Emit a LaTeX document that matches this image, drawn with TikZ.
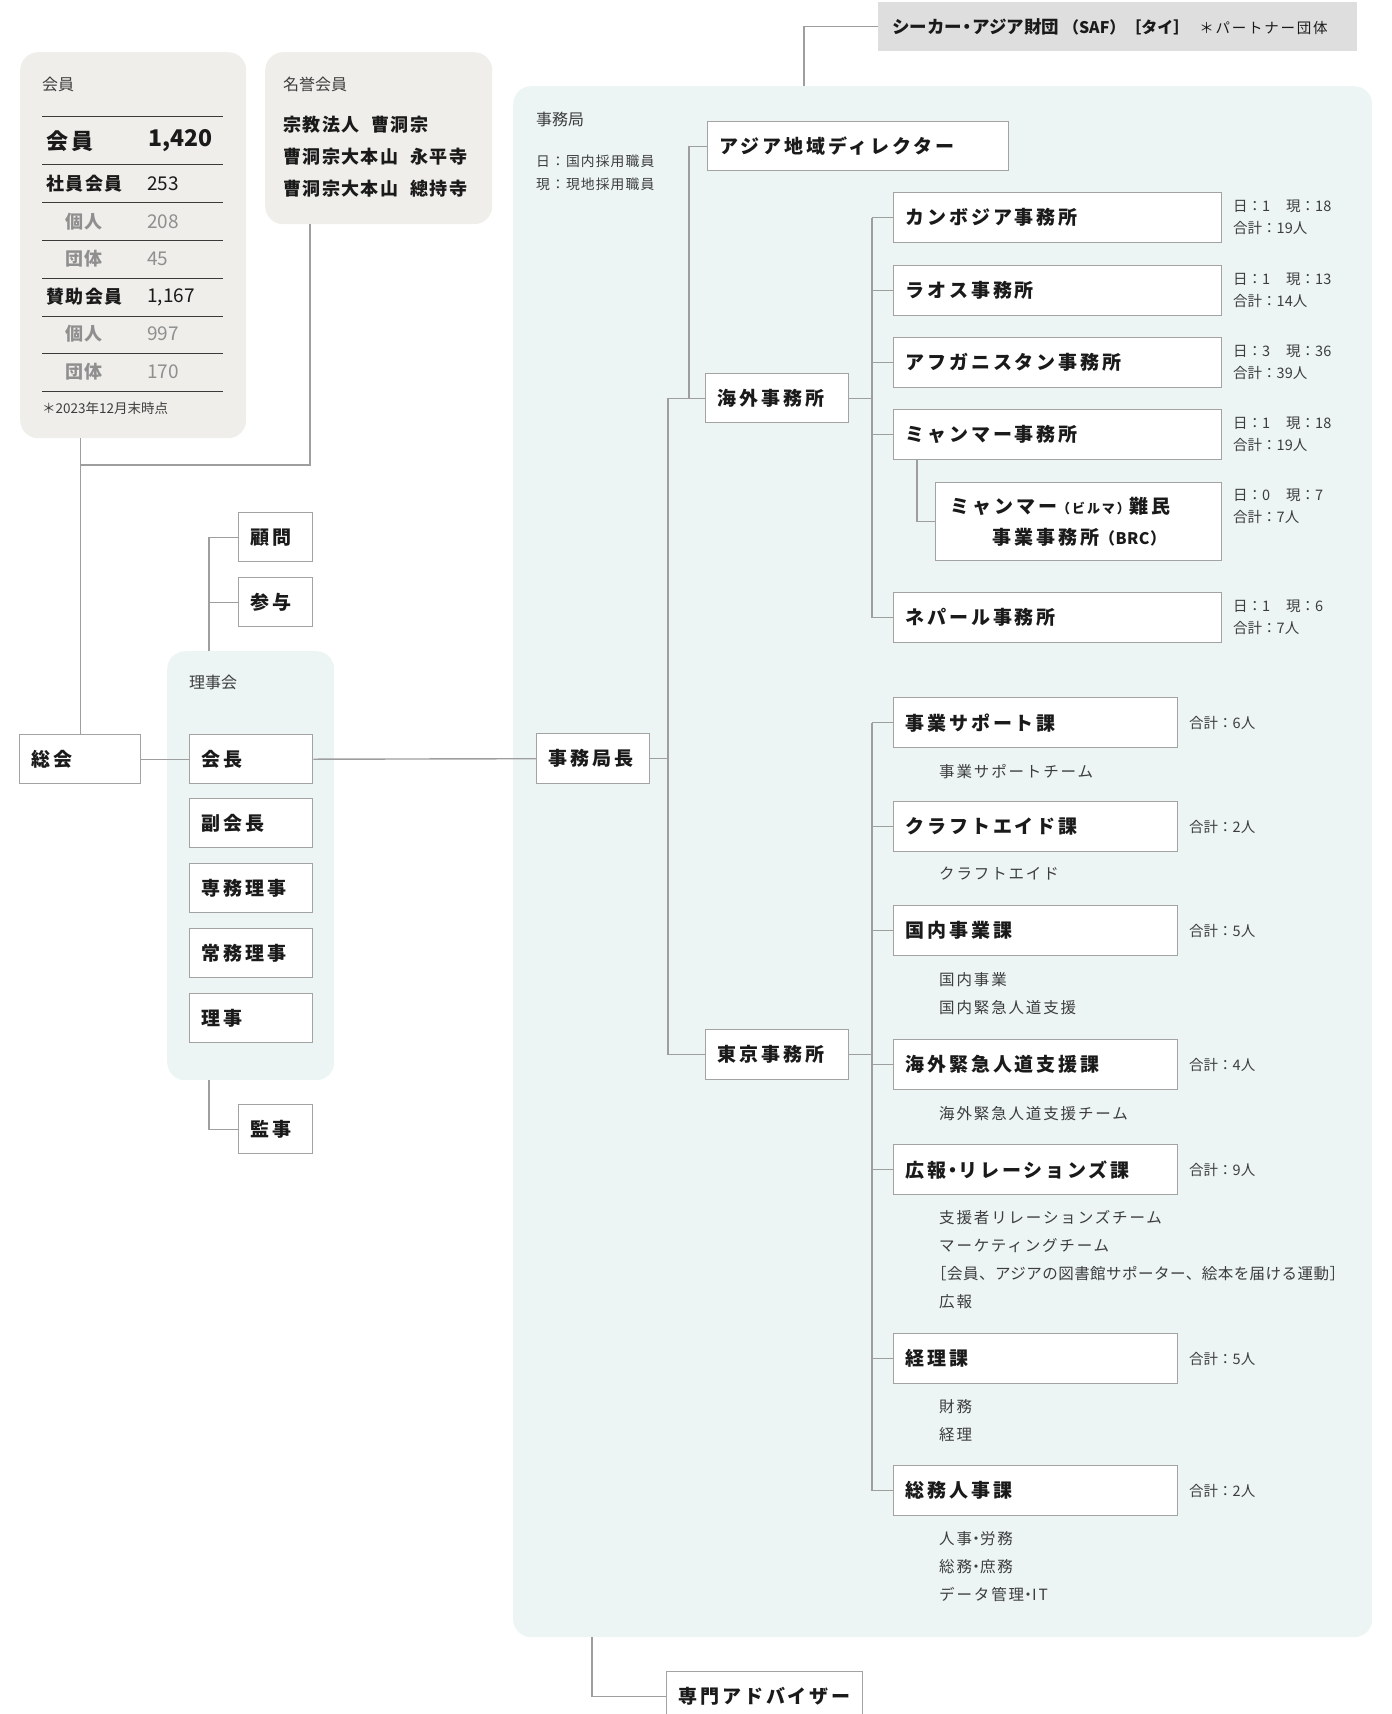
\documentclass[tikz,border=0pt]{standalone}
\usepackage{fontspec}
\setmainfont{Noto Sans CJK JP}
\newfontfamily\JPls{Noto Sans CJK JP}[LetterSpace=15]
\newfontfamily\JProw{Noto Sans CJK JP}[LetterSpace=8]
\newfontfamily\JPsub{Noto Sans CJK JP}[LetterSpace=12]
\newfontfamily\JPleg{Noto Sans CJK JP}[LetterSpace=8]
\newfontfamily\JPtight{Noto Sans CJK JP}[LetterSpace=3]
\usetikzlibrary{calc}
\definecolor{lc}{HTML}{9E9E9E}
\definecolor{bc}{HTML}{A3A3A3}
\definecolor{memfill}{HTML}{EFEEEB}
\definecolor{jimfill}{HTML}{ECF5F4}
\definecolor{saffill}{HTML}{DDDEDD}
\definecolor{tc}{HTML}{1A1A1A}
\definecolor{sc}{HTML}{3D3D3D}
\definecolor{gc}{HTML}{8F8F8F}
\definecolor{mlc}{HTML}{3A3A3A}
\newcommand\BoxFont{\JPls\bfseries\fontsize{19}{31}\selectfont}
\newcommand\TitleFont{\fontsize{16}{20}\selectfont}
\newcommand\NoteFont{\fontsize{14.5}{22}\selectfont}
\newcommand\LegFont{\JPleg\fontsize{13.8}{23}\selectfont}
\newcommand\SubFont{\JPsub\fontsize{15.5}{28}\selectfont}
\newcommand\RowFont{\JProw\bfseries\fontsize{18}{32}\selectfont}
\newcommand\NumFont{\fontsize{19}{22}\selectfont}
\newcommand\MemBig{\JPls\bfseries\fontsize{22}{26}\selectfont}
\newcommand\MemBigNum{\bfseries\fontsize{23}{26}\selectfont}
\newcommand\FootFont{\fontsize{13.5}{16}\selectfont}
\newcommand\ND[1][9pt]{\makebox[#1][c]{・}}
\begin{document}
\begin{tikzpicture}[x=1pt,y=-1pt,
  ln/.style={draw=lc,line width=1.4pt},
  ob/.style={draw=bc,fill=white,line width=1.4pt,anchor=north west,inner xsep=12pt,inner ysep=0pt,align=left,font=\BoxFont,text=tc},
  bgbox/.style={draw=none,rounded corners=18pt,anchor=north west,inner sep=0pt},
  tx/.style={anchor=west,inner sep=0pt,align=left},
  note/.style={tx,font=\NoteFont,text=sc},
  sub/.style={tx,font=\SubFont,text=sc},
  ttl/.style={tx,font=\TitleFont,text=sc},
  mrule/.style={draw=mlc,line width=1pt}
]
\useasboundingbox (0,0) rectangle (1392,1714);
\clip (0,0) rectangle (1392,1714);

% ---------- backgrounds ----------
\node[bgbox,fill=memfill,minimum width=226pt,minimum height=386pt] (mem) at (20,52) {};
\node[bgbox,fill=memfill,minimum width=227pt,minimum height=172pt] (meiyo) at (265,52) {};
\node[bgbox,fill=jimfill,minimum width=167pt,minimum height=429pt] (rbg) at (167,651) {};
\node[bgbox,fill=jimfill,minimum width=859pt,minimum height=1551pt] (jbg) at (513,86) {};

% ---------- members table ----------
\node[ttl] (memt) at (42,84) {会員};
\foreach \yy in {116,164,202,240,278,316,353,391} \draw[mrule] (42,\yy) -- (223,\yy);
\node[tx,font=\MemBig,text=tc] (r1a) at (46,141) {会員};
\node[tx,font=\MemBigNum,text=tc] (r1b) at (148,141) {1,420};
\node[tx,font=\RowFont,text=tc] (r2a) at (46,184) {社員会員};
\node[tx,font=\NumFont,text=tc] (r2b) at (147,184) {253};
\node[tx,font=\RowFont,text=gc] (r3a) at (65,222) {個人};
\node[tx,font=\NumFont,text=gc] (r3b) at (147,222) {208};
\node[tx,font=\RowFont,text=gc] (r4a) at (65,259) {団体};
\node[tx,font=\NumFont,text=gc] (r4b) at (147,259) {45};
\node[tx,font=\RowFont,text=tc] (r5a) at (46,297) {賛助会員};
\node[tx,font=\NumFont,text=tc] (r5b) at (147,297) {1,167};
\node[tx,font=\RowFont,text=gc] (r6a) at (65,334) {個人};
\node[tx,font=\NumFont,text=gc] (r6b) at (147,334) {997};
\node[tx,font=\RowFont,text=gc] (r7a) at (65,372) {団体};
\node[tx,font=\NumFont,text=gc] (r7b) at (147,372) {170};
\node[tx,font=\FootFont,text=sc] (foot) at (42,408) {＊2023年12月末時点};

\node[ttl] (meit) at (283,84) {名誉会員};
\node[tx,font=\RowFont,text=tc] (meil) at (283,157) {宗教法人\hspace{12pt}曹洞宗\\曹洞宗大本山\hspace{12pt}永平寺\\曹洞宗大本山\hspace{12pt}總持寺};

% ---------- board ----------
\node[ttl] (rttl) at (189,682) {理事会};
\node[ob,text width=97pt,minimum height=49pt] (sokai) at (19,734) {総会};
\node[ob,text width=99pt,minimum height=49pt] (kaicho) at (189,734) {会長};
\node[ob,text width=99pt,minimum height=49pt] (fuku) at (189,798) {副会長};
\node[ob,text width=99pt,minimum height=49pt] (senmu) at (189,863) {専務理事};
\node[ob,text width=99pt,minimum height=49pt] (jomu) at (189,928) {常務理事};
\node[ob,text width=99pt,minimum height=49pt] (riji) at (189,993) {理事};
\node[ob,text width=50pt,minimum height=49pt] (komon) at (238,512) {顧問};
\node[ob,text width=50pt,minimum height=49pt] (sanyo) at (238,577) {参与};
\node[ob,text width=50pt,minimum height=49pt] (kanji) at (238,1104) {監事};

% ---------- secretariat ----------
\node[ttl] (jttl) at (536,119) {事務局};
\node[tx,font=\LegFont,text=sc] (leg) at (536,172.5) {日：国内採用職員\\現：現地採用職員};
\node[ob,text width=89pt,minimum height=50pt] (kyokucho) at (536,733) {事務局長};
\node[ob,text width=277pt,minimum height=49pt] (asia) at (707,121) {アジア地域ディレクター};
\node[ob,text width=119pt,minimum height=49pt] (kaigai) at (705,373) {海外事務所};
\node[ob,text width=119pt,minimum height=50pt] (tokyo) at (705,1029) {東京事務所};

\node[ob,text width=304pt,minimum height=50pt] (cam) at (893,192) {カンボジア事務所};
\node[ob,text width=304pt,minimum height=50pt] (lao) at (893,265) {ラオス事務所};
\node[ob,text width=304pt,minimum height=50pt] (afg) at (893,337) {アフガニスタン事務所};
\node[ob,text width=304pt,minimum height=50pt] (mya) at (893,409) {ミャンマー事務所};
\node[ob,inner xsep=15pt,text width=256pt,minimum height=78pt] (brc) at (935,482)
  {ミャンマー{\fontsize{13}{31}\selectfont（ビルマ）}難民\\\hspace*{42pt}事業事務所{\JPtight\fontsize{16}{31}\selectfont（BRC）}};
\node[ob,text width=304pt,minimum height=50pt] (nep) at (893,592) {ネパール事務所};

\node[ob,text width=260pt,minimum height=50pt] (jig) at (893,697) {事業サポート課};
\node[ob,text width=260pt,minimum height=50pt] (craft) at (893,801) {クラフトエイド課};
\node[ob,text width=260pt,minimum height=50pt] (kokunai) at (893,905) {国内事業課};
\node[ob,text width=260pt,minimum height=50pt] (kkinkyu) at (893,1039) {海外緊急人道支援課};
\node[ob,text width=260pt,minimum height=50pt] (koho) at (893,1144) {広報\ND[12pt]リレーションズ課};
\node[ob,text width=260pt,minimum height=50pt] (keiri) at (893,1333) {経理課};
\node[ob,text width=260pt,minimum height=50pt] (somu) at (893,1465) {総務人事課};

\node[ob,text width=172pt,minimum height=50pt] (adv) at (666,1671) {専門アドバイザー};

\node[anchor=north west,fill=saffill,minimum height=49pt,inner xsep=14pt,inner ysep=0pt,text width=451pt,align=left,text=tc] (saf) at (878,2)
  {{\bfseries\fontsize{17.5}{20}\selectfont シーカー\ND[10pt]アジア財団}\hspace{4pt}{\bfseries\fontsize{16}{20}\selectfont（SAF）［タイ］}\hspace{10pt}{\JPsub\fontsize{14.5}{20}\selectfont ＊パートナー団体}};

% ---------- side notes ----------
\coordinate (bG) at (1233,0);
\coordinate (bH) at (1189,0);
\node[note] (camn) at (cam.east -| bG) {\makebox[53pt][l]{日：1}現：18\\合計：19人};
\node[note] (laon) at (lao.east -| bG) {\makebox[53pt][l]{日：1}現：13\\合計：14人};
\node[note] (afgn) at (afg.east -| bG) {\makebox[53pt][l]{日：3}現：36\\合計：39人};
\node[note] (myan) at (mya.east -| bG) {\makebox[53pt][l]{日：1}現：18\\合計：19人};
\node[note] (brcn) at (1233,506) {\makebox[53pt][l]{日：0}現：7\\合計：7人};
\node[note] (nepn) at (nep.east -| bG) {\makebox[53pt][l]{日：1}現：6\\合計：7人};

\node[note] (jign) at (jig.east -| bH) {合計：6人};
\node[note] (craftn) at (craft.east -| bH) {合計：2人};
\node[note] (kokunain) at (kokunai.east -| bH) {合計：5人};
\node[note] (kkinkyun) at (kkinkyu.east -| bH) {合計：4人};
\node[note] (kohon) at (koho.east -| bH) {合計：9人};
\node[note] (keirin) at (keiri.east -| bH) {合計：5人};
\node[note] (somun) at (somu.east -| bH) {合計：2人};

\node[sub] (jigs) at (939,772) {事業サポートチーム};
\node[sub] (crafts) at (939,874) {クラフトエイド};
\node[sub] (kokunais) at (939,993.5) {国内事業\\国内緊急人道支援};
\node[sub] (kkinkyus) at (939,1114) {海外緊急人道支援チーム};
\node[sub] (kohos) at (939,1259.5) {支援者リレーションズチーム\\マーケティングチーム\\\hspace*{-8pt}{\JPtight［会員、アジアの図書館サポーター、絵本を届ける運動］}\\広報};
\node[sub] (keiris) at (939,1420.5) {財務\\経理};
\node[sub] (somus) at (939,1567) {人事\ND[8pt]労務\\総務\ND[8pt]庶務\\データ管理\ND[8pt]IT};

% ---------- connectors ----------
\coordinate (mj) at (310,465);
\coordinate (rj) at (209,0);
\coordinate (bA) at (668,0);
\coordinate (bB) at (689,0);
\coordinate (bC) at (872,0);
\coordinate (bD) at (917,0);
\coordinate (bE) at (804,0);
\coordinate (bF) at (592,0);

\draw[ln] (sokai.north) -- (sokai.north |- mem.south);
\draw[ln] (mj |- meiyo.south) -- (mj) -- (mj -| sokai.north);
\draw[ln] (sokai.east) -- (kaicho.west);
\draw[ln] (kaicho.east) -- (kyokucho.west);
\draw[ln] (komon.west) -| (rj |- rbg.north);
\draw[ln] (sanyo.west) -- (sanyo.west -| rj);
\draw[ln] (rj |- rbg.south) |- (kanji.west);

\draw[ln] (kyokucho.east) -- (kyokucho.east -| bA);
\draw[ln] (kaigai.west -| bA) -- (tokyo.west -| bA);
\draw[ln] (kaigai.west -| bA) -- (kaigai.west);
\draw[ln] (tokyo.west -| bA) -- (tokyo.west);
\draw[ln] (asia.west) -| (kaigai.west -| bB);

\draw[ln] (kaigai.east) -- (kaigai.east -| bC);
\draw[ln] (cam.west -| bC) -- (nep.west -| bC);
\foreach \n in {cam,lao,afg,mya,nep} \draw[ln] (\n.west -| bC) -- (\n.west);
\draw[ln] (bD |- mya.south) |- (brc.west);

\draw[ln] (tokyo.east) -- (tokyo.east -| bC);
\draw[ln] (jig.west -| bC) -- (somu.west -| bC);
\foreach \n in {jig,craft,kokunai,kkinkyu,koho,keiri,somu} \draw[ln] (\n.west -| bC) -- (\n.west);

\draw[ln] (bE |- jbg.north) |- (saf.west);
\draw[ln] (bF |- jbg.south) |- (adv.west);
\end{tikzpicture}
\end{document}
